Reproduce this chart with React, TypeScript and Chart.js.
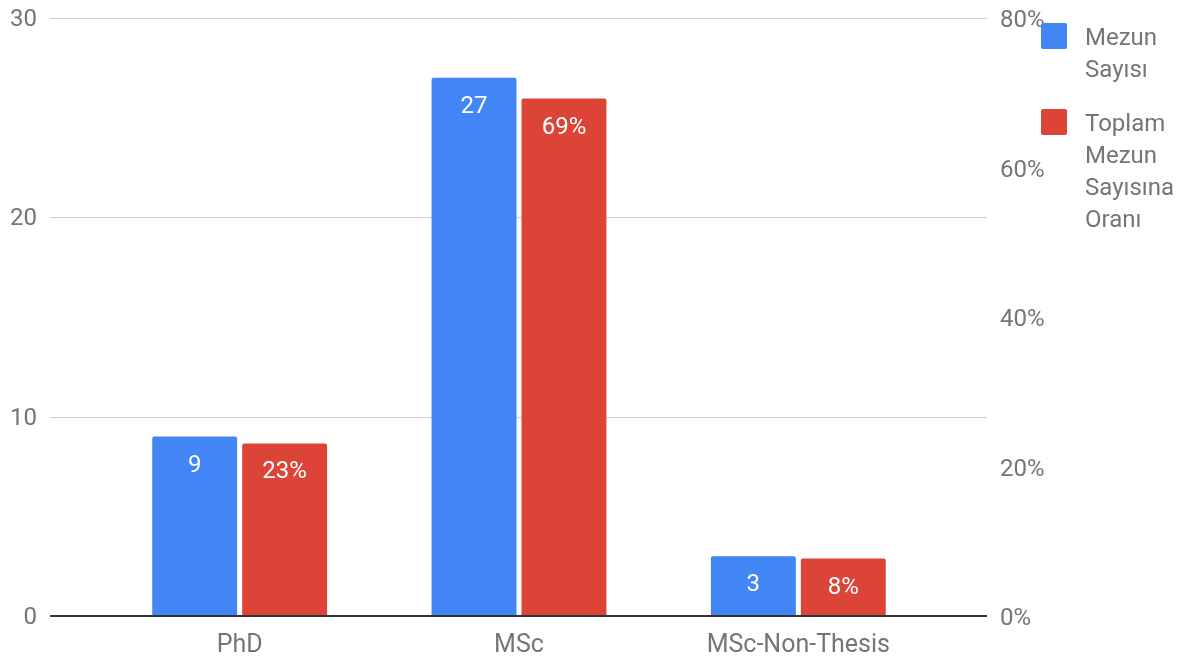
import React, { useEffect, useRef } from "react";
import { Chart, registerables } from "chart.js";

Chart.register(...registerables);

const categories = ["PhD", "MSc", "MSc-Non-Thesis"];
const graduateCounts = [9, 27, 3];
const graduateShares = [23.08, 69.23, 7.69];
const countTicks = [0, 10, 20, 30];
const legendLabels = [["Mezun", "Sayısı"], ["Toplam", "Mezun", "Sayısına", "Oranı"]];
const seriesNames = ["Mezun Sayısı", "Toplam Mezun Sayısına Oranı"];

const BLUE = "#4285F4";
const RED = "#DB4437";
const TEXT = "#757575";
const FONT = "Roboto";

export default function App() {
  const ref = useRef<HTMLCanvasElement | null>(null);

  useEffect(() => {
    if (!ref.current) return;

    const gridPlugin = {
      id: "gridLines",
      beforeDatasetsDraw(chart: any) {
        const ctx = chart.ctx;
        const y = chart.scales.y;
        ctx.save();
        countTicks.forEach((t) => {
          if (t === 0) return;
          const py = Math.round(y.getPixelForValue(t)) + 0.5;
          ctx.beginPath();
          ctx.strokeStyle = "#cccccc";
          ctx.lineWidth = 1;
          ctx.moveTo(50, py);
          ctx.lineTo(987, py);
          ctx.stroke();
        });
        ctx.restore();
      },
      afterDatasetsDraw(chart: any) {
        const ctx = chart.ctx;
        const y = chart.scales.y;
        ctx.save();
        const py = y.getPixelForValue(0);
        ctx.strokeStyle = "#333333";
        ctx.lineWidth = 2;
        ctx.beginPath();
        ctx.moveTo(50, py);
        ctx.lineTo(987, py);
        ctx.stroke();

        // value labels
        ctx.fillStyle = "#ffffff";
        ctx.font = `24px ${FONT}`;
        ctx.textAlign = "center";
        ctx.textBaseline = "middle";
        chart.data.datasets.forEach((ds: any, di: number) => {
          const meta = chart.getDatasetMeta(di);
          meta.data.forEach((el: any, i: number) => {
            const v = ds.data[i];
            const txt = di === 0 ? String(v) : Math.round(v) + "%";
            ctx.fillText(txt, el.x, el.y + 29);
          });
        });

        // legend
        const colors = [BLUE, RED];
        const squareTops = [23, 109];
        const firstLineCenters = [39, 125];
        ctx.textAlign = "left";
        legendLabels.forEach((lines, li) => {
          ctx.fillStyle = colors[li];
          ctx.beginPath();
          (ctx as any).roundRect(1041, squareTops[li], 26, 26, 2);
          ctx.fill();
          ctx.fillStyle = TEXT;
          ctx.font = `24px ${FONT}`;
          lines.forEach((line, k) => {
            ctx.fillText(line, 1085, firstLineCenters[li] + k * 32);
          });
        });
        ctx.restore();
      },
    };

    const fixVPad = (s: any) => {
      s.paddingTop = 0;
      s.paddingBottom = 0;
    };

    const chart = new Chart(ref.current, {
      type: "bar",
      data: {
        labels: categories,
        datasets: [
          {
            label: seriesNames[0],
            data: graduateCounts,
            backgroundColor: BLUE,
            yAxisID: "y",
            borderRadius: 2,
            borderSkipped: "start",
            categoryPercentage: 0.644,
            barPercentage: 0.944,
          },
          {
            label: seriesNames[1],
            data: graduateShares,
            backgroundColor: RED,
            yAxisID: "y1",
            borderRadius: 2,
            borderSkipped: "start",
            categoryPercentage: 0.644,
            barPercentage: 0.944,
          },
        ],
      },
      options: {
        responsive: false,
        animation: false,
        layout: { padding: { top: 18, left: 0, right: 0, bottom: 0 } },
        plugins: {
          legend: { display: false },
          tooltip: { enabled: false },
        },
        scales: {
          x: {
            grid: { display: false, drawTicks: false },
            border: { display: false },
            ticks: { color: TEXT, font: { family: FONT, size: 25 }, padding: 15 },
            afterFit: (s: any) => {
              s.height = 47;
              s.paddingLeft = 0;
              s.paddingRight = 0;
            },
          },
          y: {
            position: "left",
            min: 0,
            max: 30,
            grid: { display: false, drawTicks: false },
            border: { display: false },
            ticks: { stepSize: 10, color: TEXT, font: { family: FONT, size: 24 }, padding: 63, labelOffset: 2 },
            afterFit: (s: any) => {
              s.width = 100;
              fixVPad(s);
            },
          },
          y1: {
            position: "right",
            min: 0,
            max: 80,
            grid: { display: false, drawTicks: false },
            border: { display: false },
            ticks: {
              stepSize: 20,
              color: TEXT,
              font: { family: FONT, size: 24 },
              padding: 62,
              labelOffset: 3,
              callback: (v: any) => v + "%",
            },
            afterFit: (s: any) => {
              s.width = 253;
              fixVPad(s);
            },
          },
        },
      },
      plugins: [gridPlugin],
    });

    return () => chart.destroy();
  }, []);

  return (
    <div style={{ position: "fixed", left: 0, top: 0, width: 1191, height: 663, background: "#fff" }}>
      <canvas ref={ref} width={1191} height={663} />
    </div>
  );
}
